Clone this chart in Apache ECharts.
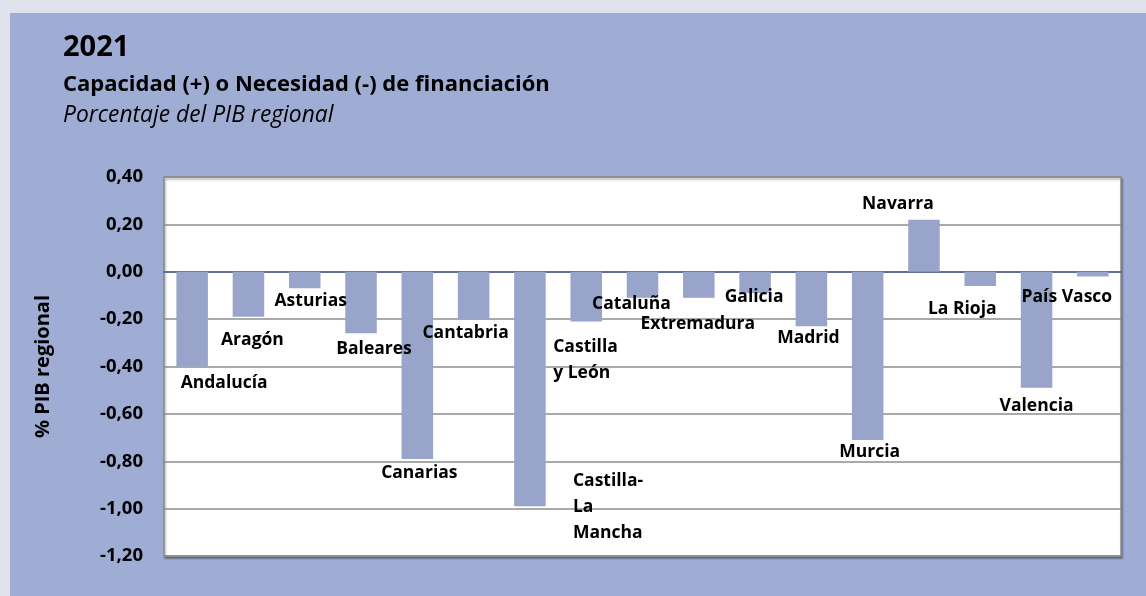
<!DOCTYPE html>
<html>
<head>
<meta charset="utf-8">
<script src="https://cdn.jsdelivr.net/npm/echarts@6/dist/echarts.min.js"></script>
<style>
  html, body { margin: 0; padding: 0; background: #dfe3ee; }
  #panel { position: absolute; left: 10px; top: 13px; right: 0; bottom: 0; background: #9fadd4; }
  #chart { position: absolute; left: 0; top: 0; width: 1146px; height: 596px; }
</style>
</head>
<body>
<div id="panel"></div>
<div id="chart"></div>
<script>
// datos
const categories = [
  'Andalucía', 'Aragón', 'Asturias', 'Baleares', 'Canarias', 'Cantabria',
  'Castilla-\nLa\nMancha', 'Castilla\ny León', 'Cataluña', 'Extremadura', 'Galicia',
  'Madrid', 'Murcia', 'Navarra', 'La Rioja', 'Valencia', 'País Vasco'
]
const values = [
  -0.40, -0.19, -0.07, -0.26, -0.79, -0.20,
  -0.99, -0.21, -0.11, -0.11, -0.09,
  -0.23, -0.71, 0.22, -0.06, -0.49, -0.02
]
const yTicks = { min: -1.2, max: 0.4, interval: 0.2 }

// desplazamiento de cada etiqueta respecto al centro de su barra (px)
const labelOffsets = [
  [32, 64], [4, 46], [6, 21], [13, 46], [2, 108], [-8, 38],
  [43, 118], [-33, 63], [-11, 19], [-1, 39], [-1, 15],
  [-3, 39], [2, 96], [-26, -42], [-18, 30], [0, 76], [-26, 23]
]
const leftAligned = [6, 7]

const font = '"Open Sans", Lato, sans-serif'
const barColor = '#98a4c9'
const gridColor = '#8c8c8c'

const chart = echarts.init(document.getElementById('chart'))

const seriesData = values.map((v, i) => ({
  value: v,
  label: {
    offset: labelOffsets[i],
    align: leftAligned.includes(i) ? 'left' : 'center',
  },
}))

const option = {
  backgroundColor: 'transparent',
  title: [
    {
      text: '2021',
      left: 58,
      top: 28,
      textStyle: { fontFamily: font, fontSize: 29, fontWeight: 'bold', color: '#000' },
    },
    {
      text: 'Capacidad (+) o Necesidad (-) de financiación',
      left: 58,
      top: 69,
      textStyle: { fontFamily: font, fontSize: 22, fontWeight: 'bold', color: '#000' },
    },
    {
      text: 'Porcentaje del PIB regional',
      left: 58,
      top: 99,
      textStyle: { fontFamily: font, fontSize: 22.8, fontStyle: 'italic', fontWeight: 'normal', color: '#000' },
    },
  ],
  grid: {
    left: 164,
    right: 25,
    top: 177,
    bottom: 40,
    show: true,
    backgroundColor: '#ffffff',
    borderColor: gridColor,
    borderWidth: 1.5,
    shadowColor: 'rgba(0,0,0,0.35)',
    shadowOffsetX: 1,
    shadowOffsetY: 2,
    shadowBlur: 2,
  },
  xAxis: {
    type: 'category',
    data: categories,
    axisLine: { onZero: true, lineStyle: { color: '#4a5d94', width: 1.5 } },
    axisTick: { show: false },
    axisLabel: { show: false },
  },
  yAxis: {
    type: 'value',
    min: yTicks.min,
    max: yTicks.max,
    interval: yTicks.interval,
    name: '% PIB regional',
    nameLocation: 'middle',
    nameGap: 111,
    nameTextStyle: { fontFamily: font, fontSize: 20, fontWeight: 'bold', color: '#000' },
    axisLine: { show: false },
    axisTick: { show: false },
    axisLabel: {
      margin: 21,
      fontFamily: font,
      fontSize: 18.5,
      fontWeight: 'bold',
      color: '#000',
      formatter: v => v.toFixed(2).replace('.', ','),
    },
    splitLine: { lineStyle: { color: gridColor, width: 1.5 } },
  },
  series: [
    {
      type: 'bar',
      data: seriesData,
      barWidth: '56%',
      itemStyle: { color: barColor },
      label: {
        show: true,
        position: 'inside',
        fontFamily: font,
        fontSize: 17.5,
        fontWeight: 'bold',
        color: '#000',
        lineHeight: 26,
        formatter: p => categories[p.dataIndex],
      },
      animation: false,
    },
  ],
}

chart.setOption(option)
</script>
</body>
</html>
